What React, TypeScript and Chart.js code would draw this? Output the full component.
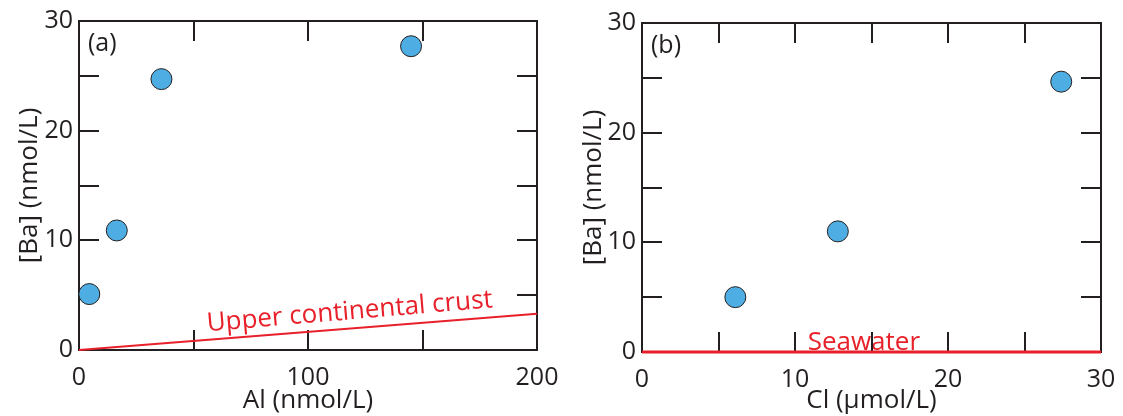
import { useEffect, useRef } from "react";
import { Chart, registerables } from "chart.js";

Chart.register(...registerables);

// ---- data -------------------------------------------------------------
// Panel (a): Ba against Al
const alSamples = [4.5, 16.5, 36, 145];
const baVsAl = [5.1, 10.9, 24.7, 27.7];
const crustAl = [0, 200];
const crustBa = [0, 3.3];
const alLabelled = [0, 100, 200];

// Panel (b): Ba against Cl
const clSamples = [6.1, 12.8, 27.4];
const baVsCl = [5.0, 11.0, 24.65];
const seawaterCl = [0, 30];
const seawaterBa = [0, 0];
const clLabelled = [0, 10, 20, 30];

const baLabelled = [0, 10, 20, 30];

// ---- styling ----------------------------------------------------------
const INK = "#231f20";
const RED = "#e8202a";
const BLUE = "#4eaee4";
const FONT = "'Open Sans', 'Noto Sans', sans-serif";
const H = 416;

type Note = { text: string; x: number; y: number; angle: number; size: number };

type Panel = {
  left: number;
  width: number;
  pad: { top: number; right: number };
  yWidth: number;
  xHeight: number;
  xMax: number;
  xStep: number;
  xLabelled: number[];
  xTitle: string;
  yTitlePad: number;
  tag: string;
  xs: number[];
  ys: number[];
  refX: number[];
  refY: number[];
  refWidth: number;
  note: Note;
};

const panels: Panel[] = [
  {
    left: 0,
    width: 560,
    pad: { top: 21, right: 23 },
    yWidth: 79,
    xHeight: 66,
    xMax: 200,
    xStep: 50,
    xLabelled: alLabelled,
    xTitle: "Al (nmol/L)",
    yTitlePad: 14,
    tag: "(a)",
    xs: alSamples,
    ys: baVsAl,
    refX: crustAl,
    refY: crustBa,
    refWidth: 2,
    note: { text: "Upper continental crust", x: 118.5, y: 2.8, angle: -4.8, size: 26 },
  },
  {
    left: 560,
    width: 563,
    pad: { top: 23, right: 22 },
    yWidth: 82,
    xHeight: 64,
    xMax: 30,
    xStep: 5,
    xLabelled: clLabelled,
    xTitle: "Cl (\u00b5mol/L)",
    yTitlePad: 18,
    tag: "(b)",
    xs: clSamples,
    ys: baVsCl,
    refX: seawaterCl,
    refY: seawaterBa,
    refWidth: 3,
    note: { text: "Seawater", x: 14.5, y: 0.2, angle: 0, size: 26 },
  },
];

const TICK_LEN = 20;

// Frame, text notes and inward tick marks, all beneath the data marks
const framePlugin = {
  id: "frameAndNotes",
  beforeDatasetsDraw(chart: any, _args: any, opts: any) {
    const { ctx, chartArea, scales } = chart;
    const { left, right, top, bottom } = chartArea;
    ctx.save();
    ctx.strokeStyle = INK;
    ctx.lineWidth = 2;
    ctx.strokeRect(left, top, right - left, bottom - top);

    // panel tag
    ctx.fillStyle = INK;
    ctx.font = `25px ${FONT}`;
    ctx.textAlign = "left";
    ctx.textBaseline = "alphabetic";
    ctx.fillText(opts.tag, left + 9, top + 30);

    // reference line label
    const note: Note = opts.note;
    const px = scales.x.getPixelForValue(note.x);
    const py = scales.y.getPixelForValue(note.y);
    ctx.save();
    ctx.translate(px, py);
    ctx.rotate((note.angle * Math.PI) / 180);
    ctx.fillStyle = RED;
    ctx.font = `${note.size}px ${FONT}`;
    ctx.textAlign = "center";
    ctx.textBaseline = "alphabetic";
    ctx.fillText(note.text, 0, 0);
    ctx.restore();

    // inward ticks on all four sides
    ctx.beginPath();
    for (const t of scales.x.ticks) {
      if (t.value <= scales.x.min || t.value >= scales.x.max) continue;
      const px2 = Math.round(scales.x.getPixelForValue(t.value));
      ctx.moveTo(px2, bottom);
      ctx.lineTo(px2, bottom - TICK_LEN);
      ctx.moveTo(px2, top);
      ctx.lineTo(px2, top + TICK_LEN);
    }
    for (const t of scales.y.ticks) {
      if (t.value <= scales.y.min || t.value >= scales.y.max) continue;
      const py2 = Math.round(scales.y.getPixelForValue(t.value));
      ctx.moveTo(left, py2);
      ctx.lineTo(left + TICK_LEN, py2);
      ctx.moveTo(right, py2);
      ctx.lineTo(right - TICK_LEN, py2);
    }
    ctx.stroke();
    ctx.restore();
  },
};

function buildConfig(p: Panel): any {
  return {
    type: "scatter",
    data: {
      datasets: [
        {
          type: "line",
          data: p.refX.map((x, i) => ({ x, y: p.refY[i] })),
          borderColor: RED,
          borderWidth: p.refWidth,
          pointRadius: 0,
          fill: false,
          clip: false,
          order: 2,
        },
        {
          data: p.xs.map((x, i) => ({ x, y: p.ys[i] })),
          backgroundColor: BLUE,
          borderColor: INK,
          borderWidth: 1,
          pointRadius: 10.5,
          pointHoverRadius: 10.5,
          clip: false,
          order: 1,
        },
      ],
    },
    options: {
      animation: false,
      responsive: false,
      devicePixelRatio: 1,
      layout: { padding: { left: 0, top: p.pad.top, right: p.pad.right, bottom: 0 } },
      plugins: {
        legend: { display: false },
        tooltip: { enabled: false },
        frameAndNotes: { tag: p.tag, note: p.note },
      },
      scales: {
        x: {
          type: "linear",
          min: 0,
          max: p.xMax,
          grid: { display: false, drawTicks: false },
          border: { display: false },
          ticks: {
            stepSize: p.xStep,
            autoSkip: false,
            maxRotation: 0,
            padding: 13,
            color: INK,
            font: { family: FONT, size: 25 },
            callback: (v: number) => (p.xLabelled.includes(v) ? String(v) : ""),
          },
          title: {
            display: true,
            text: p.xTitle,
            color: INK,
            font: { family: FONT, size: 26 },
            padding: { top: 0, bottom: 0 },
          },
          afterFit: (s: any) => {
            s.height = p.xHeight;
            s.paddingLeft = 0;
            s.paddingRight = 0;
          },
        },
        y: {
          type: "linear",
          min: 0,
          max: 30,
          grid: { display: false, drawTicks: false },
          border: { display: false },
          ticks: {
            stepSize: 5,
            autoSkip: false,
            padding: 6,
            color: INK,
            font: { family: FONT, size: 25 },
            callback: (v: number) => (baLabelled.includes(v) ? String(v) : ""),
          },
          title: {
            display: true,
            text: "[Ba] (nmol/L)",
            color: INK,
            font: { family: FONT, size: 26 },
            padding: { top: p.yTitlePad, bottom: 0 },
          },
          afterFit: (s: any) => {
            s.width = p.yWidth;
            s.paddingTop = 0;
            s.paddingBottom = 0;
          },
        },
      },
    },
    plugins: [framePlugin],
  };
}

function PanelChart({ panel }: { panel: Panel }) {
  const ref = useRef<HTMLCanvasElement>(null);
  useEffect(() => {
    if (!ref.current) return;
    const chart = new Chart(ref.current, buildConfig(panel));
    return () => chart.destroy();
  }, [panel]);
  return (
    <canvas
      ref={ref}
      width={panel.width}
      height={H}
      style={{ position: "absolute", left: panel.left, top: 0, width: panel.width, height: H }}
    />
  );
}

export default function App() {
  useEffect(() => {
    document.body.style.margin = "0";
  }, []);
  return (
    <div style={{ position: "relative", width: 1123, height: H, background: "#fff" }}>
      {panels.map((p) => (
        <PanelChart key={p.tag} panel={p} />
      ))}
    </div>
  );
}
